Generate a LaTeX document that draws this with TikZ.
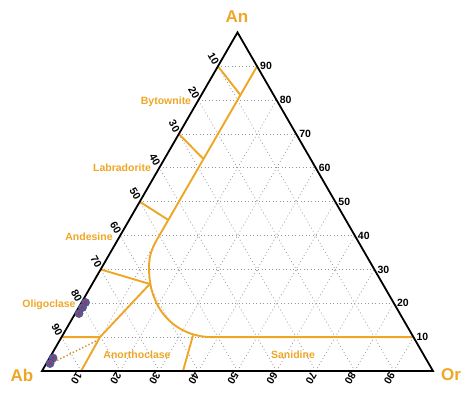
\documentclass[tikz,border=0pt]{standalone}
\usepackage{fontspec}
\setmainfont{Liberation Sans}
\usetikzlibrary{calc}
\definecolor{gold}{RGB}{238,166,36}
\definecolor{gridgray}{RGB}{150,150,158}
\definecolor{ptblue}{RGB}{88,88,150}
\definecolor{ptred}{RGB}{205,30,60}
\begin{document}
\begin{tikzpicture}[x=1pt,y=-1pt,
  gridline/.style={gridgray,line width=0.7pt,dash pattern=on 0.9pt off 2.6pt},
  edge/.style={black,line width=1.8pt,line join=miter},
  field/.style={gold,line width=1.9pt,line join=round},
  tielbl/.style={font=\fontsize{10.5}{12}\selectfont\bfseries,inner sep=0.5pt},
  minlbl/.style={gold,font=\fontsize{10.5}{12}\selectfont\bfseries,inner sep=0pt},
  cornerlbl/.style={gold,font=\fontsize{17}{20}\selectfont\bfseries,inner sep=0pt},
  datapt/.style={fill=ptblue,draw=ptblue!80!black,line width=0.3pt}]
\useasboundingbox (0,0) rectangle (474,396);
\coordinate (Ab) at (42,371);
\coordinate (Or) at (433,371);
\coordinate (An) at (237.5,32.4);
% grid
\foreach \i in {1,...,9}{
  \pgfmathtruncatemacro\j{10-\i}
  \draw[gridline] (barycentric cs:An=\i,Ab=\j) -- (barycentric cs:An=\i,Or=\j);
  \draw[gridline] (barycentric cs:Or=\i,Ab=\j) -- (barycentric cs:Or=\i,An=\j);
  \draw[gridline] (barycentric cs:Ab=\i,Or=\j) -- (barycentric cs:Ab=\i,An=\j);
}
% field boundaries
\coordinate (R90) at (barycentric cs:Or=0.1,An=0.9);
\coordinate (L90) at (barycentric cs:An=0.9,Ab=0.1);
\coordinate (L70) at (barycentric cs:An=0.7,Ab=0.3);
\coordinate (L50) at (barycentric cs:An=0.5,Ab=0.5);
\coordinate (L30) at (barycentric cs:An=0.3,Ab=0.7);
\coordinate (L10) at (barycentric cs:An=0.1,Ab=0.9);
\coordinate (J1) at (barycentric cs:Or=0.1,An=0.815,Ab=0.085);
\coordinate (J2) at (barycentric cs:Or=0.1,An=0.626,Ab=0.274);
\coordinate (J3) at (barycentric cs:Or=0.1,An=0.446,Ab=0.454);
\coordinate (P) at (barycentric cs:Or=0.1,An=0.387,Ab=0.513);
\coordinate (Q) at (149,268);
\coordinate (S) at (212,337.1);
\coordinate (R10) at (barycentric cs:An=0.1,Or=0.9);
\coordinate (T4) at (149.8,284);
\coordinate (K) at (100,337.1);
\coordinate (B10) at (barycentric cs:Or=0.1,Ab=0.9);
\coordinate (C1) at (193,335.4);
\coordinate (B36) at (183,371);
\draw[field] (R90) -- (P) .. controls (152,248.7) and (149,255) .. (Q)
  .. controls (149,312) and (178,337.1) .. (S) -- (R10);
\draw[field] (L90) -- (J1);
\draw[field] (L70) -- (J2);
\draw[field] (L50) -- (J3);
\draw[field] (L30) -- (T4);
\draw[field] (T4) -- (K) -- (B10);
\draw[field] (L10) -- (K);
\draw[field] (C1) -- (B36);
\coordinate (D0) at (54,362);
\coordinate (D1) at (96,341);
\draw[gold!85!black,line width=1.4pt,dash pattern=on 1.3pt off 2.2pt] (D0) -- (D1);
% triangle
\draw[edge] (Ab) -- (Or) -- (An) -- cycle;
% tick labels
\foreach \v in {1,...,9}{
  \pgfmathtruncatemacro\j{10-\v}
  \pgfmathtruncatemacro\lab{10*\v}
  % left: Ab
  \path (barycentric cs:Ab=\v,An=\j) ++(-1.2,-2.1) node[tielbl,rotate=-60,anchor=east] {\lab};
  % right: An
  \path (barycentric cs:An=\v,Or=\j) ++(2.5,0) node[tielbl,anchor=west] {\lab};
  % bottom: Or
  \path (barycentric cs:Or=\v,Ab=\j) ++(-1.2,2.1) node[tielbl,rotate=-120,anchor=west] {\lab};
}
% mineral labels
\node[minlbl] (byt) at (166,102) {Bytownite};
\node[minlbl] (lab) at (122,168) {Labradorite};
\node[minlbl] (and) at (89,237) {Andesine};
\node[minlbl] (oli) at (49,305) {Oligoclase};
\node[minlbl] (ano) at (137,355) {Anorthoclase};
\node[minlbl] (san) at (293,355) {Sanidine};
% corner labels
\node[cornerlbl] (lAn) at (237,17) {An};
\node[cornerlbl] (lAb) at (22,375) {Ab};
\node[cornerlbl] (lOr) at (451,375) {Or};
% data points
\foreach \p in {(85.5,302.5),(82.5,307.5),(79,313.5),(53,358),(50,363.5)}{
  \fill[datapt] \p circle (4.2);
}
\foreach \p in {(85.5,302.5),(82.5,307.5),(79,313.5),(53,358),(50,363.5)}{
  \fill[ptred] \p circle (1.4);
}
\end{tikzpicture}
\end{document}
